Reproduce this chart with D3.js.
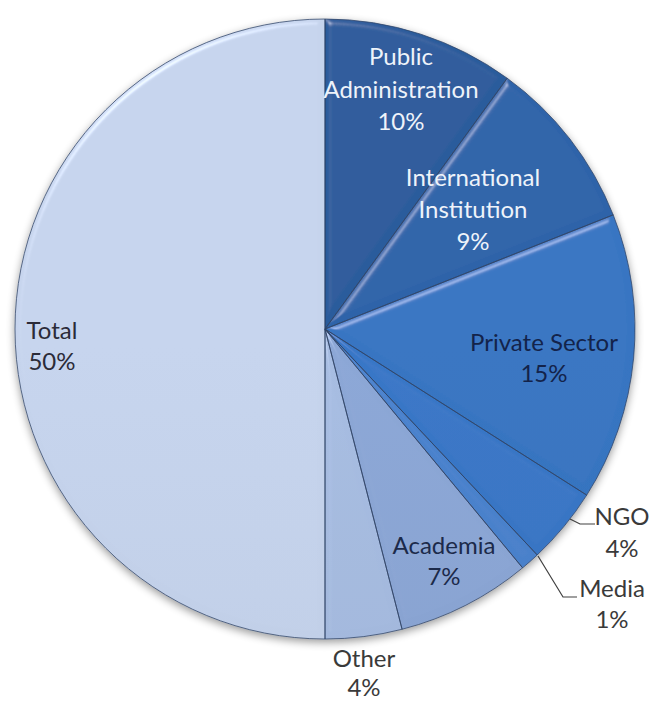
<!DOCTYPE html>
<html>
<head>
<meta charset="utf-8">
<script src="https://cdn.jsdelivr.net/npm/d3@7"></script>
<style>
  html, body { margin: 0; padding: 0; background: #ffffff; }
  svg { display: block; }
</style>
</head>
<body>
<svg id="chart" width="651" height="702"></svg>
<script>
// Sectors and their shares (percent), clockwise from 12 o'clock
const categories = ["Public Administration", "International Institution", "Private Sector", "NGO", "Media", "Academia", "Other", "Total"];
const values = [10, 9, 15, 4, 1, 7, 4, 50];
// Label text split into lines as shown beside/inside each slice
const labelLines = [
  ["Public", "Administration"],
  ["International", "Institution"],
  ["Private Sector"],
  ["NGO"],
  ["Media"],
  ["Academia"],
  ["Other"],
  ["Total"]
];

// Styling and layout
const sliceColors = ["#2b5b9a", "#2e63a7", "#3673bf", "#3875c4", "#4a81cb", "#8aa5d3", "#a5badf", "#c3d1ea"];
const textColors  = ["#eef3fa", "#eef3fa", "#13234a", "#3a3a3a", "#3a3a3a", "#1c2a4a", "#3a3a3a", "#2b2b38"];
// label anchor: centre x, baseline of first line, line gap (page coordinates)
const labelPos = [
  [401, 65, 32.5], [473, 186, 32], [544, 351, 31], [622, 525, 32],
  [612, 597, 31], [444, 554, 31], [364, 667, 29], [52, 339, 31]
];
// leader lines for the labels placed outside the pie
const leaders = {
  3: [[570, 519], [580, 524], [595, 524]],
  4: [[538, 556], [563, 597], [577, 597]]
};

const cx = 325, cy = 329, radius = 310;
const fontSize = 24;

const svg = d3.select("#chart");
const defs = svg.append("defs");

// soft shadow under the whole pie
const shadow = defs.append("filter").attr("id", "pieShadow")
  .attr("x", "-10%").attr("y", "-10%").attr("width", "120%").attr("height", "125%");
shadow.append("feGaussianBlur").attr("in", "SourceAlpha").attr("stdDeviation", 4).attr("result", "b");
shadow.append("feOffset").attr("in", "b").attr("dx", 0).attr("dy", 3).attr("result", "o");
shadow.append("feComponentTransfer").attr("in", "o").attr("result", "s")
  .append("feFuncA").attr("type", "linear").attr("slope", 0.4);
const sm = shadow.append("feMerge");
sm.append("feMergeNode").attr("in", "s");
sm.append("feMergeNode").attr("in", "SourceGraphic");

// bevel lighting on each slice (light only near the edges)
const bevel = defs.append("filter").attr("id", "bevel")
  .attr("x", "-5%").attr("y", "-5%").attr("width", "110%").attr("height", "110%");
bevel.append("feGaussianBlur").attr("in", "SourceAlpha").attr("stdDeviation", 3).attr("result", "blur");
const spec = bevel.append("feSpecularLighting").attr("in", "blur")
  .attr("surfaceScale", 4).attr("specularConstant", 0.5).attr("specularExponent", 35)
  .attr("lighting-color", "#ffffff").attr("result", "spec");
spec.append("feDistantLight").attr("azimuth", 235).attr("elevation", 35);
bevel.append("feComposite").attr("in", "spec").attr("in2", "SourceAlpha").attr("operator", "in").attr("result", "specIn");
bevel.append("feComposite").attr("in", "SourceGraphic").attr("in2", "specIn")
  .attr("operator", "arithmetic").attr("k1", 0).attr("k2", 1).attr("k3", 0.6).attr("k4", 0);

// vertical sheen per slice
sliceColors.forEach((c, i) => {
  const g = defs.append("linearGradient").attr("id", "grad" + i)
    .attr("gradientUnits", "userSpaceOnUse")
    .attr("x1", 0).attr("y1", cy - radius).attr("x2", 0).attr("y2", cy + radius);
  g.append("stop").attr("offset", "0%").attr("stop-color", d3.color(c).brighter(0.04));
  g.append("stop").attr("offset", "100%").attr("stop-color", d3.color(c).darker(0.1));
});

const data = categories.map((c, i) => ({ category: c, value: values[i], index: i }));

const pie = d3.pie().value(d => d.value).sort(null).startAngle(0).endAngle(2 * Math.PI);
const arc = d3.arc().innerRadius(0).outerRadius(radius);
const arcs = pie(data);

const g = svg.append("g").attr("transform", `translate(${cx},${cy})`).attr("filter", "url(#pieShadow)");

g.selectAll("path.slice")
  .data(arcs)
  .join("path")
  .attr("class", "slice")
  .attr("d", arc)
  .attr("fill", d => `url(#grad${d.data.index})`)
  .attr("filter", "url(#bevel)");

// thin dark slice borders
g.selectAll("path.edge")
  .data(arcs)
  .join("path")
  .attr("class", "edge")
  .attr("d", arc)
  .attr("fill", "none")
  .attr("stroke", "#2f4366")
  .attr("stroke-opacity", 0.75)
  .attr("stroke-width", 1);

// leader lines
Object.entries(leaders).forEach(([, pts]) => {
  svg.append("path")
    .attr("d", d3.line().curve(d3.curveLinear)(pts))
    .attr("fill", "none")
    .attr("stroke", "#404040")
    .attr("stroke-width", 1.2);
});

// labels: category lines followed by the percentage
const labels = svg.append("g")
  .attr("font-family", "Lato, 'Open Sans', sans-serif")
  .attr("font-size", fontSize)
  .attr("text-anchor", "middle");

data.forEach((d, i) => {
  const lines = labelLines[i].concat([d.value + "%"]);
  const [x, y, gap] = labelPos[i];
  const t = labels.append("text")
    .attr("x", x)
    .attr("y", y)
    .attr("fill", textColors[i]);
  lines.forEach((ln, k) => {
    t.append("tspan")
      .attr("x", x)
      .attr("dy", k === 0 ? 0 : gap)
      .text(ln);
  });
});
</script>
</body>
</html>
